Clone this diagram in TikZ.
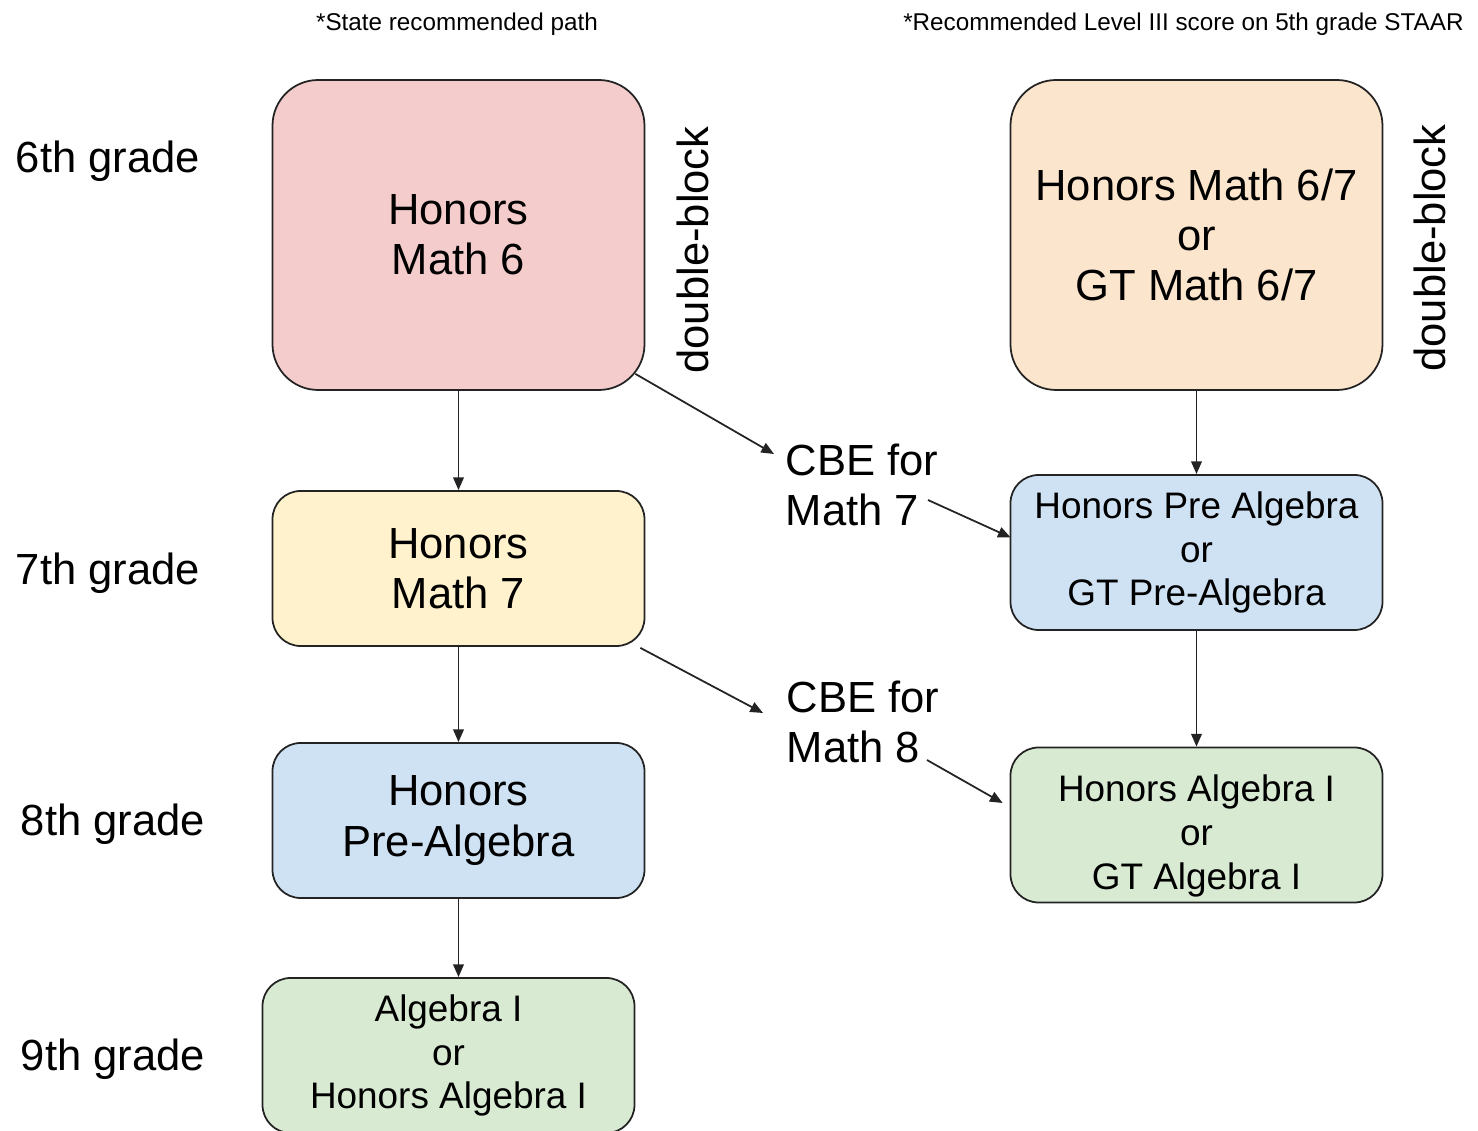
\documentclass[tikz,border=0pt]{standalone}
\usepackage{fontspec}
\setmainfont{Liberation Sans}
\usetikzlibrary{arrows.meta}
\usetikzlibrary{calc}
\definecolor{cpink}  {RGB}{244,204,204}
\definecolor{cyellow}{RGB}{255,242,204}
\definecolor{cblue}  {RGB}{207,226,243}
\definecolor{cgreen} {RGB}{217,234,211}
\definecolor{corange}{RGB}{252,229,205}
\definecolor{cline}  {RGB}{35,35,35}
\tikzset{
    course/.style={draw=cline, line width=0.5pt, rounded corners=8pt, align=center,
             minimum width=37.2mm, minimum height=15.5mm, inner sep=0pt,
             font=\fontsize{12.4}{14.3}\selectfont
    },
    bigcourse/.style={course, minimum height=31mm, rounded corners=13pt},
    smallcourse/.style={course, font=\fontsize{10.5}{12.5}\selectfont},
    grade/.style={font=\fontsize{12.4}{14.3}\selectfont},
    cbe/.style={anchor=west, align=left, inner sep=0pt, font=\fontsize{12.4}{14.3}\selectfont},
    dblock/.style={rotate=90, font=\fontsize{12.4}{14.3}\selectfont},
    header/.style={font=\fontsize{6.9}{8.5}\selectfont},
    link/.style={draw=cline, line width=0.5pt, -{Triangle[length=3.6pt,width=3pt]}}
  }
\begin{document}
\begin{tikzpicture}[x=0.1mm, y=-0.1mm]
 \useasboundingbox (0,0) rectangle (1478,1131);
 %headers
     \node[header] (hleft) at (457,24) {*State recommended path};
     \node[header, anchor=east] (hright) at (1476,24) {*Recommended Level III score on 5th grade STAAR};
 %grades
     \node[grade] (g6) at (108,161) {6th grade};
     \node[grade] (g7) at (108,573) {7th grade};
     \node[grade] (g8) at (113,824) {8th grade};
     \node[grade] (g9) at (113,1059) {9th grade};
 %state path
     \node[bigcourse, fill=cpink] (hm6) at (458.5,235) {Honors\\Math 6};
     \node[course, fill=cyellow] (hm7) at (458.5,568.5) {Honors\\Math 7};
     \node[course, fill=cblue] (hpa) at (458.5,820.5) {Honors\\Pre-Algebra};
     \node[smallcourse, fill=cgreen] (alg) at (448.5,1055.5) {Algebra I\\or\\Honors Algebra I};
 %level III path
     \node[bigcourse, fill=corange] (gt67) at (1196.5,235) {Honors Math 6/7\\or\\GT Math 6/7};
     \node[smallcourse, fill=cblue] (gtpa) at (1196.5,552.5) {Honors Pre Algebra\\or\\GT Pre-Algebra};
     \node[smallcourse, fill=cgreen] (gtalg) at (1196.5,825) {\rule{0pt}{14pt}Honors Algebra I\\or\\GT Algebra I};
 %double-block
     \node[dblock] (db1) at (693,250) {double-block};
     \node[dblock] (db2) at (1430,248) {double-block};
 %cbe
     \node[cbe] (cbe7) at (785,485) {CBE for\\Math 7};
     \node[cbe] (cbe8) at (786,722) {CBE for\\Math 8};
 % arrows
     \draw[link] (hm6.south) -- (hm7.north);
     \draw[link] (hm7.south) -- (hpa.north);
     \draw[link] (hpa.south) -- (hpa.south |- alg.north);
     \draw[link] (gt67.south) -- (gtpa.north);
     \draw[link] (gtpa.south) -- (gtalg.north);
     \draw[link] ($(hm6.south east)+(-10,-17)$) -- ($(cbe7.west)+(-11,-31)$);
     \draw[link] ($(cbe7.east)+(-11,15)$) -- ($(gtpa.west)+(1,-15)$);
     \draw[link] ($(hm7.south east)+(-5,1)$) -- ($(cbe8.west)+(-23,-9)$);
     \draw[link] ($(cbe8.east)+(-13,38)$) -- ($(gtalg.west)+(-7,-22)$);
 \end{tikzpicture}
\end{document}
